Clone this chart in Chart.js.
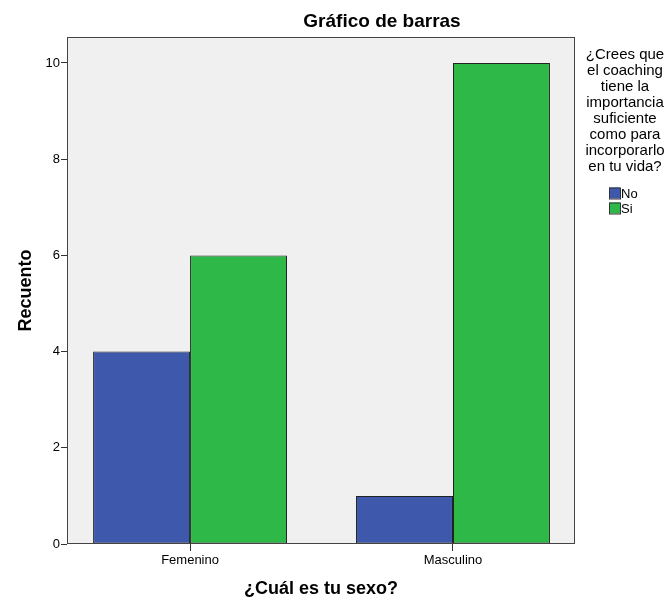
<!DOCTYPE html>
<html>
<head>
<meta charset="utf-8">
<script src="https://cdn.jsdelivr.net/npm/chart.js@4/dist/chart.umd.min.js"></script>
<style>
  html, body { margin: 0; padding: 0; background: #ffffff; }
  #wrap { width: 668px; height: 601px; }
</style>
</head>
<body>
<div id="wrap"><canvas id="c" width="668" height="601"></canvas></div>
<script>
// ---- data ----
const categories = ['Femenino', 'Masculino'];
const seriesNames = ['No', 'Si'];
const noValues = [4, 1];
const siValues = [6, 10];
const yTicks = [0, 2, 4, 6, 8, 10];
const chartTitle = 'Gráfico de barras';
const xTitle = '¿Cuál es tu sexo?';
const yTitle = 'Recuento';
const legendTitle = ['¿Crees que', 'el coaching', 'tiene la', 'importancia', 'suficiente', 'como para', 'incorporarlo', 'en tu vida?'];

const colors = ['#3E58AC', '#2EB848'];
const FONT = '"Liberation Sans", Arial, sans-serif';

const toPoints = arr => arr.map((v, i) => ({ x: i, y: v }));

const framePlugin = {
  id: 'frame',
  beforeDraw(chart) {
    const { ctx, chartArea: a } = chart;
    ctx.save();
    ctx.fillStyle = '#F0F0F0';
    ctx.fillRect(a.left, a.top, a.right - a.left, a.bottom - a.top);
    ctx.restore();
  },
  afterDraw(chart) {
    const { ctx, chartArea: a } = chart;
    ctx.save();
    ctx.strokeStyle = '#444444';
    ctx.lineWidth = 1;
    ctx.strokeRect(Math.round(a.left) + 0.5, Math.round(a.top) + 0.5,
      Math.round(a.right - a.left) - 1, Math.round(a.bottom - a.top) - 1);
    // chart title
    ctx.fillStyle = '#000';
    ctx.font = 'bold 19px ' + FONT;
    ctx.textAlign = 'center';
    ctx.textBaseline = 'middle';
    ctx.fillText(chartTitle, 382, 22);
    // legend
    ctx.font = '15px ' + FONT;
    legendTitle.forEach((t, i) => ctx.fillText(t, 625, 55 + 16 * i));
    seriesNames.forEach((n, i) => {
      const cy = 193 + 15 * i;
      ctx.fillStyle = colors[i];
      ctx.fillRect(609, cy - 5.5, 11, 11);
      ctx.strokeStyle = '#333';
      ctx.strokeRect(609.5, cy - 5 , 11, 11);
      ctx.fillStyle = '#000';
      ctx.textAlign = 'left';
      ctx.font = '13px ' + FONT;
      ctx.fillText(n, 621, cy + 1);
    });
    ctx.restore();
  }
};

new Chart(document.getElementById('c'), {
  type: 'bar',
  data: {
    datasets: [
      { label: seriesNames[0], data: toPoints(noValues), backgroundColor: colors[0], borderColor: '#222', borderWidth: 1, borderSkipped: false },
      { label: seriesNames[1], data: toPoints(siValues), backgroundColor: colors[1], borderColor: '#222', borderWidth: 1, borderSkipped: false }
    ]
  },
  options: {
    responsive: false,
    animation: false,
    devicePixelRatio: 1,
    layout: { padding: { top: 37, right: 93, left: 0, bottom: 0 } },
    datasets: { bar: { categoryPercentage: 0.7376, barPercentage: 1 } },
    plugins: { legend: { display: false }, tooltip: { enabled: false }, title: { display: false } },
    scales: {
      x: {
        type: 'linear',
        min: -0.468,
        max: 1.464,
        offset: false,
        afterBuildTicks: s => { s.ticks = categories.map((_, i) => ({ value: i })); },
        afterFit: s => { s.height = 57; },
        border: { display: false },
        grid: { display: true, offset: false, drawOnChartArea: false, drawTicks: true, tickLength: 7, color: '#333', tickColor: '#333' },
        ticks: { callback: v => categories[v], color: '#000', font: { family: FONT, size: 13 }, padding: 2, maxRotation: 0, autoSkip: false },
        title: { display: true, text: xTitle, color: '#000', font: { family: FONT, size: 18, weight: 'bold' }, padding: { top: 0, bottom: 1 } }
      },
      y: {
        min: 0,
        max: 10.54,
        afterBuildTicks: s => { s.ticks = yTicks.map(v => ({ value: v })); },
        afterFit: s => { s.width = 67; },
        border: { display: false },
        grid: { display: true, drawOnChartArea: false, drawTicks: true, tickLength: 6, color: '#333', tickColor: '#333' },
        ticks: { color: '#000', font: { family: FONT, size: 13 }, padding: 1 },
        title: { display: true, text: yTitle, color: '#000', font: { family: FONT, size: 18, weight: 'bold' }, padding: { top: 15, bottom: 0 } }
      }
    }
  },
  plugins: [framePlugin]
});
</script>
</body>
</html>
